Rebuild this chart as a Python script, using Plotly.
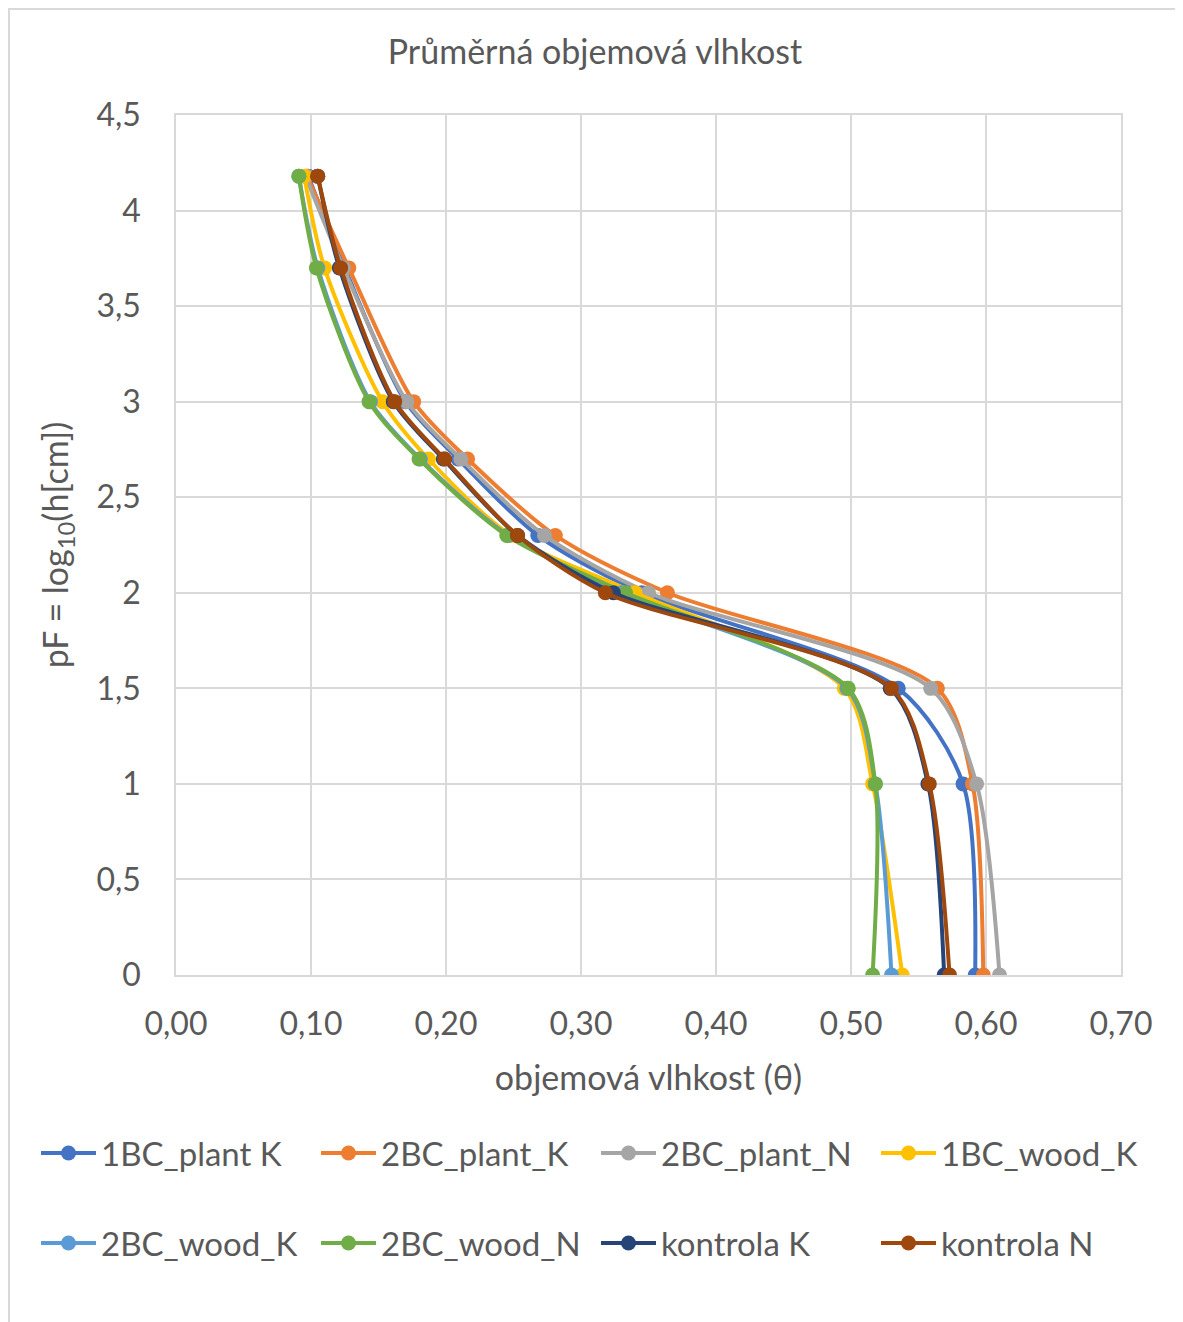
import plotly.graph_objects as go

pF = [0, 1, 1.5, 2, 2.3, 2.7, 3, 3.7, 4.18]

names = ["1BC_plant K", "2BC_plant_K", "2BC_plant_N", "1BC_wood_K",
         "2BC_wood_K", "2BC_wood_N", "kontrola K", "kontrola N"]
colors = ["#4472C4", "#ED7D31", "#A5A5A5", "#FFC000",
          "#5B9BD5", "#70AD47", "#264478", "#9E480E"]

bc1_plant_K = [0.592, 0.583, 0.535, 0.345, 0.268, 0.209, 0.170, 0.125, 0.098]
bc2_plant_K = [0.598, 0.590, 0.564, 0.364, 0.281, 0.216, 0.176, 0.128, 0.097]
bc2_plant_N = [0.610, 0.593, 0.559, 0.350, 0.273, 0.211, 0.171, 0.124, 0.096]
bc1_wood_K = [0.538, 0.516, 0.495, 0.340, 0.248, 0.187, 0.153, 0.110, 0.095]
bc2_wood_K = [0.530, 0.518, 0.497, 0.330, 0.246, 0.181, 0.144, 0.105, 0.091]
bc2_wood_N = [0.516, 0.518, 0.498, 0.333, 0.245, 0.180, 0.143, 0.104, 0.091]
kontrola_K = [0.569, 0.557, 0.529, 0.324, 0.253, 0.198, 0.161, 0.121, 0.105]
kontrola_N = [0.573, 0.558, 0.530, 0.318, 0.253, 0.199, 0.162, 0.122, 0.105]

series = [bc1_plant_K, bc2_plant_K, bc2_plant_N, bc1_wood_K,
          bc2_wood_K, bc2_wood_N, kontrola_K, kontrola_N]

FONT = "Lato"
GREY = "#595959"
GRID = "#D9D9D9"

W, H = 1175, 1314  # page body offset of 8 px
PX = lambda x: (x - 176) / 945
PY = lambda y: (975 - y) / 860

legend_x_px = [36, 316, 596, 876]
legend_y_px = [1153, 1243]

fig = go.Figure()
legends = {}
for i, (name, col, vals) in enumerate(zip(names, colors, series)):
    key = "legend" if i == 0 else f"legend{i + 1}"
    fig.add_trace(go.Scatter(
        x=vals, y=pF, name=name, mode="lines+markers",
        line=dict(color=col, width=4, shape="spline", smoothing=0.8),
        marker=dict(color=col, size=15),
        legend=key, showlegend=True,
    ))
    legends[key] = dict(orientation="h", xanchor="left", yanchor="middle",
                        x=PX(legend_x_px[i % 4]), y=PY(legend_y_px[i // 4]),
                        itemwidth=55,
                        font=dict(size=33, color=GREY, family=FONT),
                        bgcolor="rgba(0,0,0,0)")

fig.update_layout(
    width=W, height=H, showlegend=True,
    paper_bgcolor="white", plot_bgcolor="white",
    separators=",.",
    font=dict(family=FONT, color=GREY, size=30),
    margin=dict(l=168, r=62, t=107, b=347),
    title=dict(text="Průměrná objemová vlhkost", x=(595 - 8) / W, xanchor="center",
               y=1 - 44 / H, yanchor="middle",
               font=dict(size=34, color=GREY, family=FONT)),
    xaxis=dict(range=[0, 0.7], dtick=0.1, tick0=0, tickformat=".2f",
               showgrid=True, gridcolor=GRID, gridwidth=1.5,
               showline=True, linecolor=GRID, linewidth=1.5, mirror=True,
               zeroline=False, ticks="", ticklabelstandoff=20,
               tickfont=dict(size=32, color=GREY, family=FONT),
               title=dict(text="objemová vlhkost (θ)", standoff=25,
                          font=dict(size=34, color=GREY, family=FONT))),
    yaxis=dict(range=[0, 4.5], dtick=0.5, tick0=0,
               showgrid=True, gridcolor=GRID, gridwidth=1.5,
               showline=True, linecolor=GRID, linewidth=1.5, mirror=True,
               zeroline=False, ticks="", ticklabelstandoff=27,
               tickfont=dict(size=32, color=GREY, family=FONT),
               title=dict(text="pF = log<sub>10</sub>(h[cm])", standoff=18,
                          font=dict(size=34, color=GREY, family=FONT))),
    shapes=[dict(type="rect", xref="paper", yref="paper",
                 x0=PX(9), x1=PX(1200),
                 y0=PY(1340), y1=PY(9),
                 line=dict(color=GRID, width=2), layer="below")],
    **legends,
)

fig.write_html("out.html")
